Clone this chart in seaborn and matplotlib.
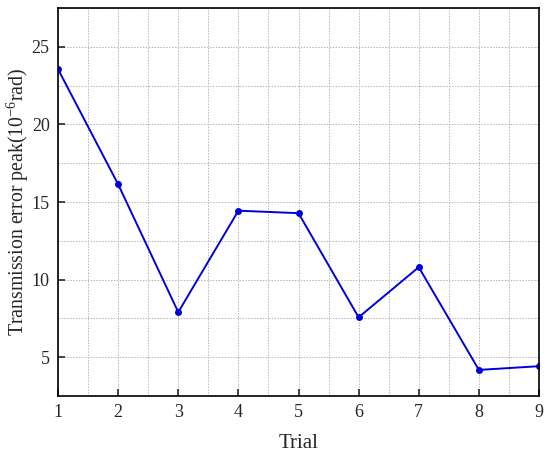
import matplotlib
matplotlib.use("Agg")
import matplotlib.pyplot as plt
from matplotlib.ticker import MultipleLocator
import pandas as pd
import seaborn as sns

trials = [1, 2, 3, 4, 5, 6, 7, 8, 9]
error_peak = [23.56, 16.14, 7.9, 14.44, 14.28, 7.57, 10.8, 4.18, 4.42]

sns.set_style("ticks")
plt.rcParams['font.family'] = ['Liberation Serif', 'DejaVu Serif']
plt.rcParams['mathtext.fontset'] = 'custom'
plt.rcParams['mathtext.rm'] = 'Liberation Serif'

df = pd.DataFrame({"Trial": trials, "peak": error_peak})

fig = plt.figure(figsize=(5.5, 4.58), dpi=100)
ax = fig.add_axes([0.1055, 0.1354, 0.8745, 0.8471])

sns.lineplot(data=df, x="Trial", y="peak", ax=ax, color="#0000dd",
             linewidth=1.4, marker="o", markersize=5, markeredgewidth=0)

ax.set_xlim(1, 9)
ax.set_ylim(2.5, 27.5)
ax.xaxis.set_major_locator(MultipleLocator(1))
ax.xaxis.set_minor_locator(MultipleLocator(0.5))
ax.yaxis.set_major_locator(MultipleLocator(5))
ax.yaxis.set_minor_locator(MultipleLocator(2.5))
ax.grid(which="both", color="#b4b4b4", linestyle=(0, (1.5, 1.5)), linewidth=0.7)
ax.tick_params(which="major", direction="in", length=5, width=1.2,
               labelsize=13, pad=6)
ax.tick_params(which="minor", length=0)
for s in ax.spines.values():
    s.set_linewidth(1.2)
    s.set_color("black")

ax.set_xlabel("Trial", fontsize=15, labelpad=9)
ax.set_ylabel(r"Transmission error peak(10$^{-6}$rad)", fontsize=14.3)
ax.yaxis.set_label_coords(-0.056, 0.5)

fig.savefig("out.png", dpi=100)
